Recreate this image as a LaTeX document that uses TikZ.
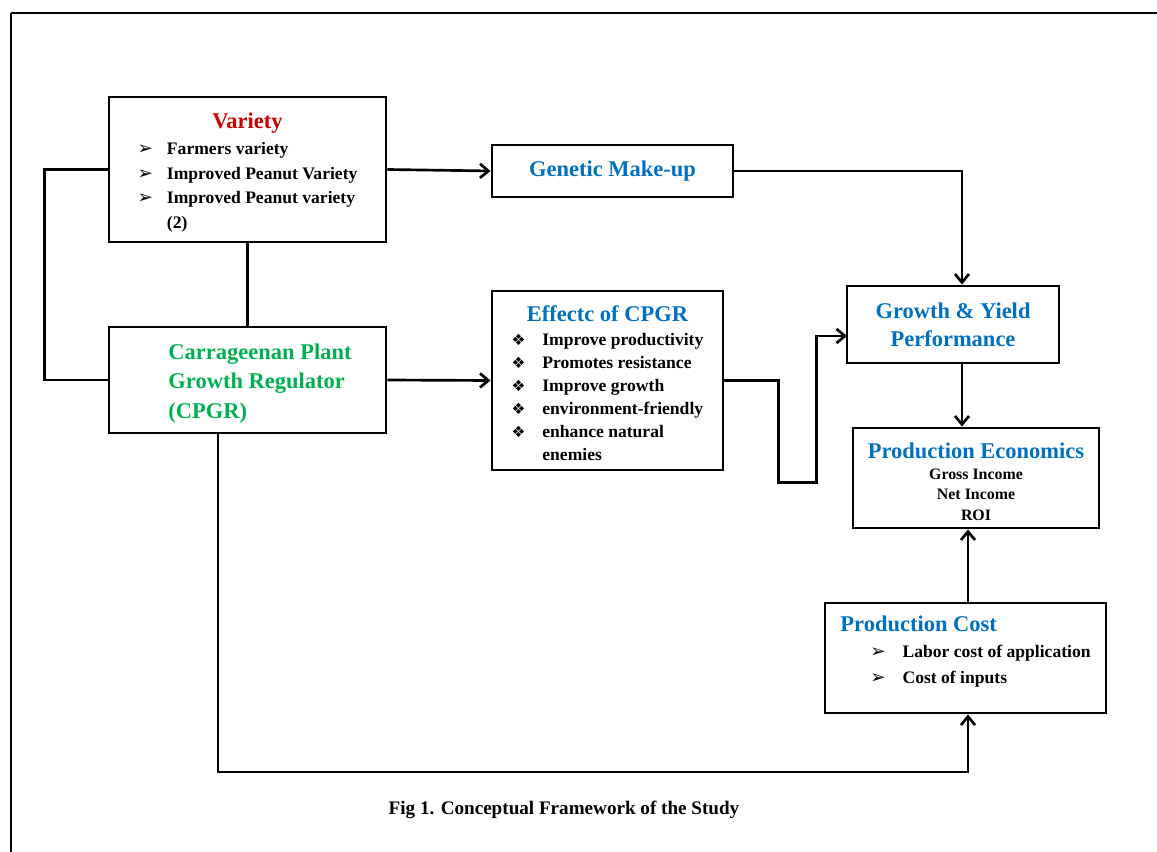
\documentclass[tikz,border=0pt]{standalone}
\usepackage{fontspec}
\setmainfont{Liberation Serif}
\newfontfamily\dingfont{DejaVu Sans}
\usetikzlibrary{positioning,arrows.meta,calc}
\definecolor{titleblue}{RGB}{0,112,192}
\definecolor{titlegreen}{RGB}{0,176,80}
\definecolor{titlered}{RGB}{204,0,0}
\newdimen\pxu \pxu=0.025cm
\newcommand{\arrbul}{{\dingfont\fontsize{13}{13}\selectfont ➢}}
\newcommand{\diabul}{{\dingfont\fontsize{11}{11}\selectfont ❖}}
\newcommand{\ttlfont}{\fontsize{16}{21}\selectfont\bfseries}
\newcommand{\txtfont}{\fontsize{12.5}{17.4}\selectfont\bfseries}

\begin{document}
\begin{tikzpicture}[x=0.025cm, y=-0.025cm,
    block/.style={rectangle, draw, line width=2.1pt, inner sep=0pt, align=center},
    link/.style={line width=1.9pt},
    arrow/.style={line width=1.9pt, -{Straight Barb[length=6pt,width=10pt]}}]
    \useasboundingbox (0,0) rectangle (1157,852);

    % Frame
    \draw[line width=1.3pt] (11,13) -- (1157,13);
    \draw[line width=1.3pt] (11,13) -- (11,852);

    % Inputs
    \node[block, minimum width=277\pxu, minimum height=145\pxu] (variety) at (247.5,169.5) {\txtfont
      \begin{tabular}{@{}l@{\hspace{10pt}}l@{}}
        \multicolumn{2}{c}{\ttlfont\color{titlered}Variety}\\[1pt]
        \arrbul & Farmers variety\\
        \arrbul & Improved Peanut Variety\\
        \arrbul & Improved Peanut variety\\
                & (2)\\[-8\pxu]
      \end{tabular}};
    \node[block, minimum width=277\pxu, minimum height=106\pxu] (cpgr) at (247.5,380) {\hspace{25\pxu}\fontsize{16}{21.3}\selectfont\bfseries\color{titlegreen}%
      \begin{tabular}{@{}l@{}}
        Carrageenan Plant\\
        Growth Regulator\\
        (CPGR)\\[-6\pxu]
      \end{tabular}};

    % Middle column
    \node[block, minimum width=241\pxu, minimum height=52\pxu] (genetic) at (612.5,171) {\ttlfont\color{titleblue}Genetic Make-up};
    \node[block, minimum width=231\pxu, minimum height=179\pxu] (effect) at (607.5,380.5) {\fontsize{12.5}{16.3}\selectfont\bfseries
      \begin{tabular}{@{}l@{\hspace{12pt}}l@{}}
        \multicolumn{2}{c}{\ttlfont\color{titleblue}Effectc of CPGR\hspace{18\pxu}}\\[1pt]
        \diabul & Improve productivity\\
        \diabul & Promotes resistance\\
        \diabul & Improve growth\\
        \diabul & environment-friendly\\
        \diabul & enhance natural\\
                & enemies\\[-12\pxu]
      \end{tabular}};

    % Outputs
    \node[block, minimum width=212\pxu, minimum height=77\pxu, font=\fontsize{16}{20}\selectfont\bfseries, text=titleblue] (growth) at (953,324.5) {Growth \& Yield\\ Performance};
    \node[block, minimum width=246\pxu, minimum height=100\pxu] (econ) at (976,478) {\fontsize{11.3}{14.6}\selectfont\bfseries
      \begin{tabular}{@{}c@{}}
        {\ttlfont\color{titleblue}Production Economics}\\
        Gross Income\\
        Net Income\\
        ROI\\[-14\pxu]
      \end{tabular}};
    \node[block, minimum width=281\pxu, minimum height=110\pxu] (cost) at (965.5,658) {\fontsize{12.5}{18.5}\selectfont\bfseries
      \begin{tabular}{@{}l@{\hspace{12pt}}l@{}}
        \multicolumn{2}{@{}l}{\ttlfont\color{titleblue}Production Cost}\\
        \hspace{30\pxu}\arrbul & Labor cost of application\\
        \hspace{30\pxu}\arrbul & Cost of inputs\\[12\pxu]
      \end{tabular}};

    % Caption
    \node[font=\fontsize{13.6}{16}\selectfont\bfseries] (caption) at (564,810) {Fig 1. Conceptual Framework of the Study};

    % Helper coordinates
    \coordinate (gyx) at (962,0);
    \coordinate (pcx) at (968,0);
    \coordinate (gyin) at (847,336);
    \coordinate (low) at (218,772);

    % Connectors
    \draw[link] (variety.south) -- (cpgr.north);
    \draw[link] (variety.west) -- ++(-63,0) |- (cpgr.west);
    \draw[arrow] (variety.east) -- (genetic.west);
    \draw[arrow] (cpgr.east) -- (effect.west);
    \draw[arrow] (genetic.east) -| (growth.north -| gyx);
    \draw[arrow] (effect.east) -- ++(54,0) -- ++(0,102) -- ++(38,0) |- (gyin);
    \draw[arrow] (growth.south -| gyx) -- (econ.north -| gyx);
    \draw[arrow] (cost.north -| pcx) -- (econ.south -| pcx);
    \draw[arrow] (cpgr.south -| low) -- (low) -| (cost.south -| pcx);
\end{tikzpicture}
\end{document}
